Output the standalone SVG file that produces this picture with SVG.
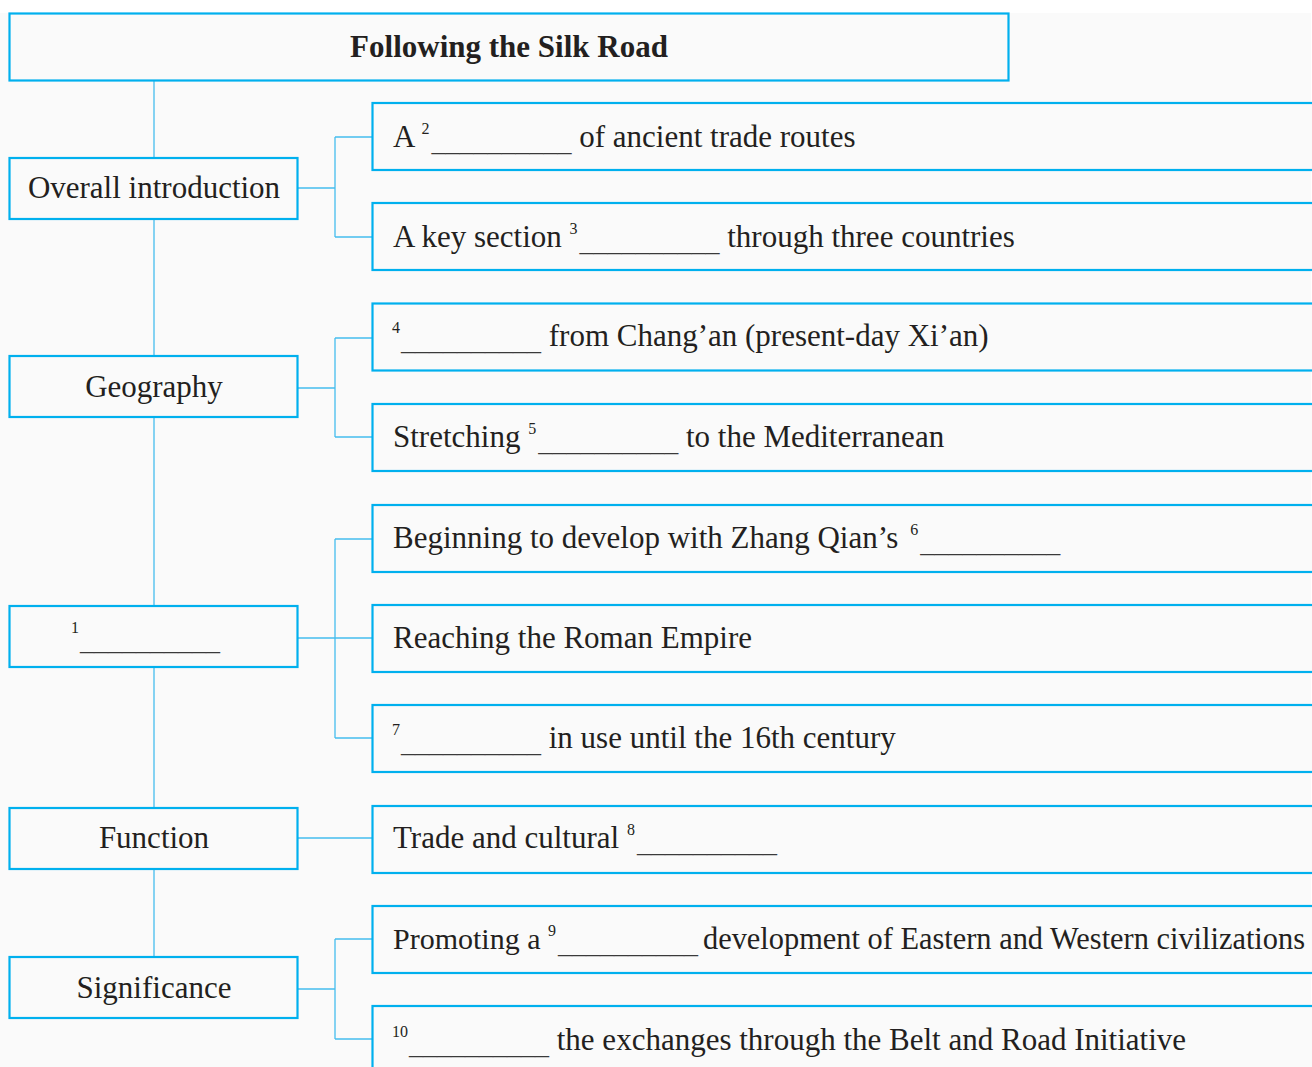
<svg xmlns="http://www.w3.org/2000/svg" width="1312" height="1067" viewBox="0 0 1312 1067">
<style>
.box{fill:#fafafa;stroke:#00b0ee;stroke-width:2.2}
.con{fill:none;stroke:#45bdee;stroke-width:1.3}
text{font-family:"Liberation Serif","Times New Roman",serif;font-size:31px;fill:#231f20}
.title{font-weight:bold;font-size:31px}
.mid{text-anchor:middle}
.sup{font-size:16px}
.bl{font-size:28px;fill:#3a3a3a}
</style>
<rect x="0" y="0" width="1312" height="1067" fill="#ffffff"/>
<rect x="0" y="13" width="1311" height="1054" fill="#fafafa"/>
<g id="connectors">
<path class="con" d="M154 80V957"/>
<path class="con" d="M298 188H335M335 137V237M335 137H372M335 237H372"/>
<path class="con" d="M298 388H335M335 338V437M335 338H372M335 437H372"/>
<path class="con" d="M298 638H372M335 539V738M335 539H372M335 738H372"/>
<path class="con" d="M298 838H372"/>
<path class="con" d="M298 989H335M335 939V1039M335 939H372M335 1039H372"/>
</g>
<g id="title"><rect class="box" x="9.5" y="13.5" width="999" height="67"/><text class="title mid" x="509" y="57">Following the Silk Road</text></g>
<g id="n-overall"><rect class="box" x="9.5" y="158" width="288" height="61"/><text class="mid" x="154" y="198">Overall introduction</text></g>
<g id="n-geography"><rect class="box" x="9.5" y="356" width="288" height="61"/><text class="mid" x="154" y="397">Geography</text></g>
<g id="n-blank1"><rect class="box" x="9.5" y="606" width="288" height="61"/><text x="71" y="646"><tspan class="sup" dy="-13">1</tspan><tspan class="bl" dx="1" dy="17">__________</tspan></text></g>
<g id="n-function"><rect class="box" x="9.5" y="808" width="288" height="61"/><text class="mid" x="154" y="848">Function</text></g>
<g id="n-significance"><rect class="box" x="9.5" y="957" width="288" height="61"/><text class="mid" x="154" y="998">Significance</text></g>
<g id="r1"><rect class="box" x="372.5" y="103" width="950" height="67"/><text x="393" y="147">A <tspan class="sup" dy="-13">2</tspan><tspan class="bl" dx="2" dy="17">__________</tspan><tspan dy="-4"> of ancient trade routes</tspan></text></g>
<g id="r2"><rect class="box" x="372.5" y="203" width="950" height="67"/><text x="393" y="247">A key section <tspan class="sup" dy="-13">3</tspan><tspan class="bl" dx="2" dy="17">__________</tspan><tspan dy="-4"> through three countries</tspan></text></g>
<g id="r3"><rect class="box" x="372.5" y="303.5" width="950" height="67"/><text x="392" y="346"><tspan class="sup" dy="-13">4</tspan><tspan class="bl" dx="1" dy="17">__________</tspan><tspan dy="-4"> from Chang’an (present-day Xi’an)</tspan></text></g>
<g id="r4"><rect class="box" x="372.5" y="404" width="950" height="67"/><text x="393" y="447">Stretching <tspan class="sup" dy="-13">5</tspan><tspan class="bl" dx="2" dy="17">__________</tspan><tspan dy="-4"> to the Mediterranean</tspan></text></g>
<g id="r5"><rect class="box" x="372.5" y="505" width="950" height="67"/><text x="393" y="548">Beginning to develop with Zhang Qian’s <tspan class="sup" dx="4" dy="-13">6</tspan><tspan class="bl" dx="2" dy="17">__________</tspan></text></g>
<g id="r6"><rect class="box" x="372.5" y="605" width="950" height="67"/><text x="393" y="648">Reaching the Roman Empire</text></g>
<g id="r7"><rect class="box" x="372.5" y="705" width="950" height="67"/><text x="392" y="748"><tspan class="sup" dy="-13">7</tspan><tspan class="bl" dx="1" dy="17">__________</tspan><tspan dy="-4"> in use until the 16th century</tspan></text></g>
<g id="r8"><rect class="box" x="372.5" y="806" width="950" height="67"/><text x="393" y="848">Trade and cultural <tspan class="sup" dy="-13">8</tspan><tspan class="bl" dx="2" dy="17">__________</tspan></text></g>
<g id="r9"><rect class="box" x="372.5" y="906" width="950" height="67"/><text x="393" y="949" style="font-size:30px">Promoting a <tspan class="sup" dy="-13">9</tspan><tspan class="bl" dx="2" dy="17">__________</tspan></text><text x="703" y="949" textLength="602" lengthAdjust="spacingAndGlyphs">development of Eastern and Western civilizations</text></g>
<g id="r10"><rect class="box" x="372.5" y="1006" width="950" height="67"/><text x="392" y="1050"><tspan class="sup" dy="-13">10</tspan><tspan class="bl" dx="1" dy="17">__________</tspan><tspan dy="-4"> the exchanges through the Belt and Road Initiative</tspan></text></g>
</svg>
